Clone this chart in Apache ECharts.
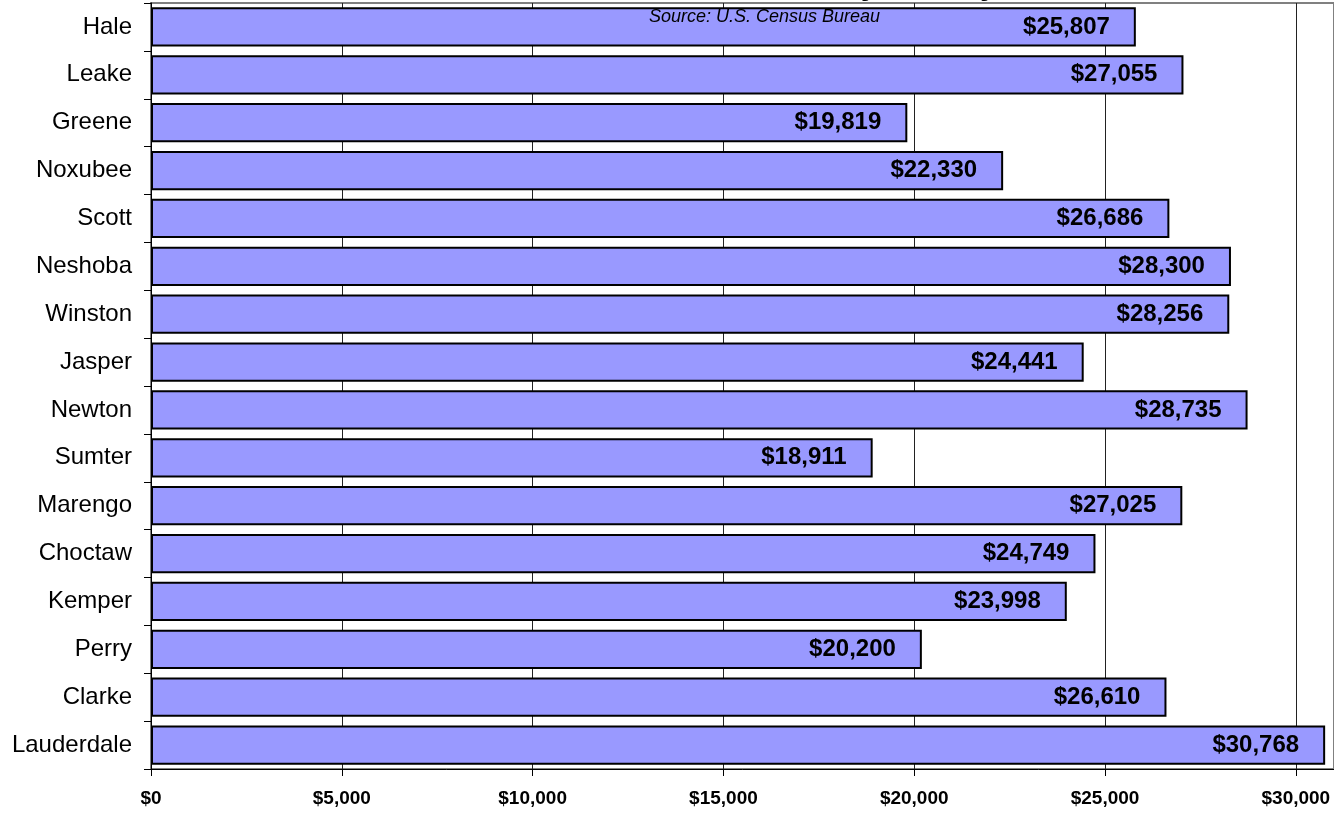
<!DOCTYPE html>
<html>
<head>
<meta charset="utf-8">
<script src="https://cdn.jsdelivr.net/npm/echarts@6/dist/echarts.min.js"></script>
<style>
  html, body { margin: 0; padding: 0; background: #fff; }
  #chart { width: 1334px; height: 814px; }
</style>
</head>
<body>
<div id="chart"></div>
<script>
const counties = ['Hale', 'Leake', 'Greene', 'Noxubee', 'Scott', 'Neshoba', 'Winston', 'Jasper',
  'Newton', 'Sumter', 'Marengo', 'Choctaw', 'Kemper', 'Perry', 'Clarke', 'Lauderdale']
const income = [25807, 27055, 19819, 22330, 26686, 28300, 28256, 24441,
  28735, 18911, 27025, 24749, 23998, 20200, 26610, 30768]

const font = 'Arial, "Liberation Sans", sans-serif'
const money = v => '$' + v.toLocaleString('en-US')

const chart = echarts.init(document.getElementById('chart'))

chart.setOption({
  animation: false,
  graphic: [
    {
      // title sits above the visible area, only the descenders show
      type: 'text',
      left: 427,
      top: -31,
      z: 10,
      style: {
        text: 'Median Household Income by County',
        font: 'bold 32px ' + font,
        fill: '#000'
      }
    },
    {
      type: 'text',
      left: 649,
      top: 8,
      z: 10,
      style: {
        text: 'Source: U.S. Census Bureau',
        font: 'italic 18px ' + font,
        fill: '#000'
      }
    }
  ],
  grid: {
    left: 151,
    right: -3,
    top: 3,
    bottom: 45,
    show: true,
    borderColor: '#808080',
    borderWidth: 2
  },
  xAxis: {
    type: 'value',
    min: 0,
    max: 31000,
    interval: 5000,
    axisLine: { show: true, lineStyle: { color: '#000', width: 1 } },
    axisTick: { show: true, length: 7, lineStyle: { color: '#000' } },
    splitLine: { show: true, lineStyle: { color: '#222', width: 1 } },
    axisLabel: {
      showMaxLabel: false,
      margin: 20,
      color: '#000',
      fontFamily: font,
      fontWeight: 'bold',
      fontSize: 19,
      formatter: money
    }
  },
  yAxis: {
    type: 'category',
    data: counties,
    inverse: true,
    axisLine: { show: true, lineStyle: { color: '#000', width: 1 } },
    axisTick: { show: true, length: 7, lineStyle: { color: '#000' } },
    axisLabel: {
      margin: 19,
      color: '#000',
      fontFamily: font,
      fontSize: 24
    }
  },
  series: [
    {
      type: 'bar',
      data: income,
      barCategoryGap: '18%',
      itemStyle: {
        color: '#9999FF',
        borderColor: '#000',
        borderWidth: 2
      },
      label: {
        show: true,
        position: 'insideRight',
        distance: 26,
        color: '#000',
        fontFamily: font,
        fontWeight: 'bold',
        fontSize: 24,
        formatter: p => money(p.value)
      }
    }
  ]
})
</script>
</body>
</html>
